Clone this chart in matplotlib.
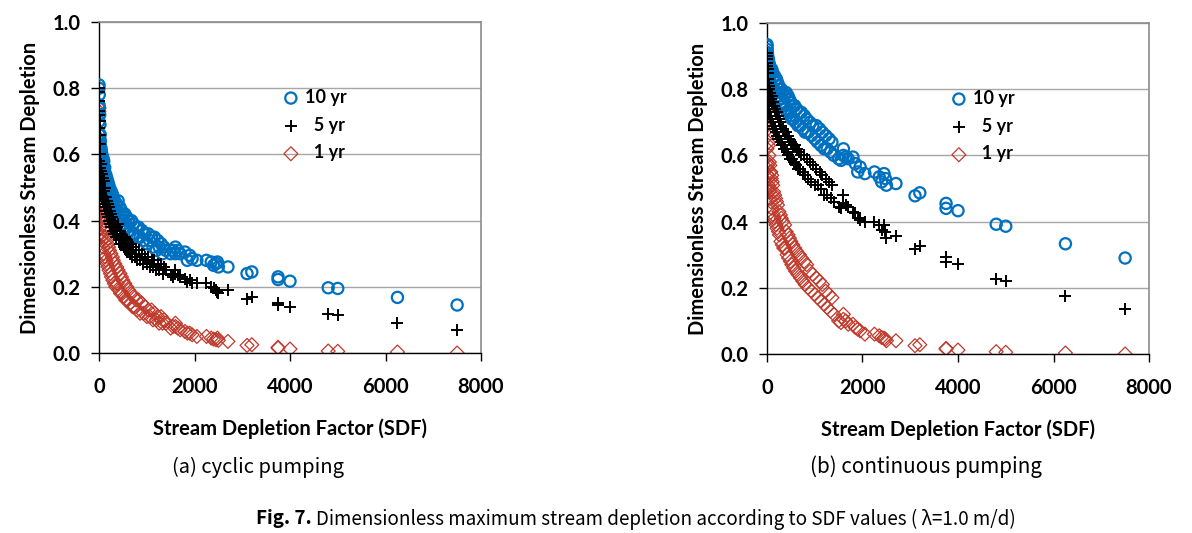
import matplotlib
matplotlib.use("Agg")
import matplotlib.pyplot as plt

# Shared SDF values (x)
sdf = [0, 0, 0, 0, 0, 0, 5, 5, 10, 10, 15, 15, 20, 20, 25, 30, 30, 40, 40, 50,
       50, 60, 60, 70, 80, 80, 90, 100, 100, 110, 120, 130, 140, 150, 160, 170, 180, 190, 200, 210,
       220, 240, 250, 260, 280, 290, 300, 320, 330, 350, 370, 380, 400, 420, 440, 450, 470, 490, 500, 520,
       540, 560, 580, 600, 620, 650, 680, 700, 720, 750, 780, 800, 830, 860, 900, 930, 960, 1000, 1030, 1060,
       1100, 1130, 1160, 1200, 1230, 1260, 1300, 1330, 1360, 1400,
       1500, 1550, 1600, 1600, 1650, 1700, 1800, 1850, 1900, 1950, 2050, 2250, 2350,
       2400, 2450, 2480, 2500, 2700, 3100, 3200, 3750, 3750, 4000, 4800, 5000, 6250, 7500]

# (a) cyclic pumping
cyc_10yr = [0.81, 0.80, 0.75, 0.70, 0.66, 0.62, 0.78, 0.64, 0.74, 0.61, 0.72, 0.63, 0.69, 0.60, 0.66, 0.64, 0.58, 0.62, 0.57, 0.61,
            0.56, 0.60, 0.55, 0.58, 0.59, 0.54, 0.56, 0.58, 0.52, 0.55, 0.56, 0.51, 0.54, 0.50, 0.53, 0.49, 0.52, 0.48, 0.51, 0.47,
            0.50, 0.46, 0.49, 0.45, 0.48, 0.44, 0.47, 0.43, 0.46, 0.42, 0.45, 0.43, 0.46, 0.41, 0.44, 0.40, 0.43, 0.40, 0.42, 0.39,
            0.42, 0.38, 0.41, 0.38, 0.40, 0.37, 0.40, 0.36, 0.39, 0.36, 0.38, 0.35, 0.38, 0.35, 0.37, 0.34, 0.36, 0.33, 0.36, 0.34,
            0.35, 0.32, 0.35, 0.31, 0.34, 0.32, 0.33, 0.30, 0.32, 0.31,
            0.30, 0.31, 0.32, 0.30, 0.31, 0.30, 0.305, 0.28, 0.295, 0.285, 0.28, 0.28, 0.275,
            0.265, 0.27, 0.275, 0.26, 0.26, 0.24, 0.245, 0.222, 0.23, 0.217, 0.197, 0.195, 0.168, 0.145]
cyc_5yr = [0.80, 0.79, 0.73, 0.68, 0.60, 0.55, 0.76, 0.58, 0.72, 0.54, 0.70, 0.56, 0.66, 0.52, 0.63, 0.60, 0.50, 0.57, 0.49, 0.55,
           0.48, 0.54, 0.47, 0.52, 0.53, 0.46, 0.50, 0.52, 0.45, 0.49, 0.50, 0.44, 0.47, 0.43, 0.46, 0.42, 0.45, 0.41, 0.44, 0.40,
           0.43, 0.39, 0.42, 0.38, 0.41, 0.37, 0.40, 0.36, 0.39, 0.35, 0.38, 0.36, 0.39, 0.34, 0.37, 0.33, 0.36, 0.33, 0.35, 0.32,
           0.35, 0.31, 0.34, 0.31, 0.33, 0.30, 0.33, 0.29, 0.32, 0.29, 0.31, 0.28, 0.31, 0.28, 0.30, 0.27, 0.29, 0.27, 0.29, 0.26,
           0.28, 0.26, 0.28, 0.25, 0.27, 0.25, 0.27, 0.24, 0.26, 0.25,
           0.235, 0.23, 0.25, 0.24, 0.235, 0.23, 0.225, 0.215, 0.22, 0.21, 0.21, 0.21, 0.20,
           0.195, 0.19, 0.185, 0.18, 0.19, 0.163, 0.168, 0.145, 0.152, 0.14, 0.118, 0.115, 0.092, 0.07]
cyc_1yr = [0.74, 0.73, 0.65, 0.58, 0.50, 0.45, 0.64, 0.42, 0.62, 0.48, 0.57, 0.40, 0.55, 0.44, 0.52, 0.50, 0.38, 0.47, 0.36, 0.45,
           0.35, 0.43, 0.34, 0.41, 0.42, 0.32, 0.39, 0.40, 0.30, 0.37, 0.38, 0.29, 0.35, 0.28, 0.34, 0.27, 0.33, 0.26, 0.32, 0.25,
           0.31, 0.24, 0.30, 0.23, 0.29, 0.22, 0.28, 0.21, 0.27, 0.20, 0.26, 0.21, 0.25, 0.19, 0.24, 0.18, 0.23, 0.18, 0.22, 0.17,
           0.21, 0.16, 0.20, 0.16, 0.19, 0.15, 0.18, 0.14, 0.17, 0.14, 0.16, 0.13, 0.16, 0.12, 0.15, 0.12, 0.14, 0.11, 0.13, 0.11,
           0.13, 0.10, 0.12, 0.10, 0.11, 0.09, 0.11, 0.09, 0.10, 0.09,
           0.075, 0.08, 0.09, 0.08, 0.075, 0.07, 0.065, 0.06, 0.06, 0.055, 0.05, 0.05, 0.045,
           0.042, 0.04, 0.045, 0.038, 0.035, 0.023, 0.025, 0.015, 0.017, 0.012, 0.006, 0.005, 0.003, 0.0]

# (b) continuous pumping
con_10yr = [0.935, 0.93, 0.91, 0.89, 0.87, 0.86, 0.92, 0.85, 0.91, 0.86, 0.90, 0.85, 0.89, 0.84, 0.88, 0.89, 0.84, 0.88, 0.83, 0.87,
            0.83, 0.87, 0.82, 0.86, 0.86, 0.81, 0.85, 0.86, 0.81, 0.85, 0.85, 0.80, 0.84, 0.80, 0.84, 0.79, 0.83, 0.79, 0.83, 0.78,
            0.82, 0.77, 0.81, 0.77, 0.80, 0.76, 0.80, 0.75, 0.79, 0.75, 0.78, 0.74, 0.79, 0.73, 0.78, 0.73, 0.77, 0.72, 0.76, 0.71,
            0.75, 0.71, 0.75, 0.70, 0.74, 0.69, 0.73, 0.69, 0.73, 0.68, 0.72, 0.67, 0.71, 0.67, 0.70, 0.66, 0.69, 0.65, 0.69, 0.64,
            0.68, 0.63, 0.67, 0.62, 0.66, 0.62, 0.65, 0.61, 0.64, 0.60,
            0.59, 0.585, 0.62, 0.60, 0.595, 0.59, 0.595, 0.575, 0.55, 0.565, 0.545, 0.55, 0.535,
            0.52, 0.545, 0.53, 0.51, 0.515, 0.478, 0.487, 0.44, 0.455, 0.433, 0.392, 0.386, 0.333, 0.29]
con_5yr = [0.91, 0.90, 0.88, 0.85, 0.80, 0.76, 0.89, 0.78, 0.87, 0.77, 0.86, 0.76, 0.85, 0.75, 0.83, 0.82, 0.74, 0.81, 0.74, 0.80,
           0.73, 0.79, 0.72, 0.78, 0.78, 0.71, 0.77, 0.78, 0.70, 0.76, 0.76, 0.69, 0.75, 0.68, 0.74, 0.68, 0.73, 0.67, 0.73, 0.66,
           0.72, 0.65, 0.71, 0.65, 0.70, 0.64, 0.69, 0.63, 0.68, 0.62, 0.67, 0.62, 0.67, 0.61, 0.66, 0.60, 0.65, 0.59, 0.64, 0.59,
           0.63, 0.58, 0.63, 0.57, 0.62, 0.56, 0.61, 0.56, 0.60, 0.55, 0.60, 0.54, 0.59, 0.53, 0.58, 0.52, 0.57, 0.51, 0.56, 0.51,
           0.55, 0.50, 0.54, 0.48, 0.53, 0.48, 0.52, 0.47, 0.51, 0.46,
           0.445, 0.44, 0.48, 0.455, 0.45, 0.445, 0.43, 0.425, 0.41, 0.405, 0.40, 0.40, 0.39,
           0.375, 0.39, 0.37, 0.35, 0.358, 0.318, 0.325, 0.278, 0.292, 0.272, 0.228, 0.222, 0.175, 0.135]
con_1yr = [0.81, 0.80, 0.74, 0.69, 0.62, 0.58, 0.74, 0.56, 0.70, 0.57, 0.68, 0.54, 0.66, 0.53, 0.64, 0.63, 0.51, 0.60, 0.50, 0.58,
           0.49, 0.57, 0.47, 0.55, 0.55, 0.46, 0.53, 0.54, 0.44, 0.52, 0.51, 0.42, 0.49, 0.41, 0.48, 0.40, 0.47, 0.39, 0.46, 0.38,
           0.45, 0.37, 0.43, 0.36, 0.42, 0.34, 0.41, 0.33, 0.40, 0.32, 0.39, 0.32, 0.37, 0.30, 0.36, 0.29, 0.35, 0.28, 0.34, 0.27,
           0.33, 0.26, 0.32, 0.25, 0.31, 0.24, 0.30, 0.23, 0.29, 0.22, 0.28, 0.21, 0.27, 0.20, 0.25, 0.19, 0.24, 0.18, 0.23, 0.17,
           0.22, 0.16, 0.21, 0.15, 0.19, 0.14, 0.18, 0.13, 0.17, 0.12,
           0.10, 0.095, 0.12, 0.105, 0.10, 0.09, 0.09, 0.08, 0.075, 0.07, 0.06, 0.06, 0.055,
           0.05, 0.048, 0.045, 0.04, 0.04, 0.025, 0.028, 0.015, 0.017, 0.012, 0.007, 0.005, 0.003, 0.0]

series_labels = ["10 yr", "  5 yr", "  1 yr"]
x_ticks = [0, 2000, 4000, 6000, 8000]
y_ticks = [0.0, 0.2, 0.4, 0.6, 0.8, 1.0]

BLUE = "#0070C0"
RED = "#C0392B"
BOLD = "Lato"
CAP = ["Noto Sans CJK KR", "DejaVu Sans"]

fig = plt.figure(figsize=(11.92, 5.33), dpi=100)
W, H = 1192, 533


def make_axes(left_px, top_px, bottom_px, right_px):
    return fig.add_axes([left_px / W, (H - bottom_px) / H,
                         (right_px - left_px) / W, (bottom_px - top_px) / H])


panels = [
    (make_axes(99, 22, 353, 481), cyc_10yr, cyc_5yr, cyc_1yr),
    (make_axes(767, 23, 354, 1149), con_10yr, con_5yr, con_1yr),
]

for ax, y10, y5, y1 in panels:
    ax.scatter(sdf, y10, s=65, facecolors="none", edgecolors=BLUE, linewidths=1.6,
               marker="o", label=series_labels[0], zorder=3)
    ax.scatter(sdf, y5, s=80, c="black", linewidths=1.4, marker="+",
               label=series_labels[1], zorder=4)
    ax.scatter(sdf, y1, s=50, facecolors="none", edgecolors=RED, linewidths=0.9,
               marker="D", label=series_labels[2], zorder=2)
    ax.set_xlim(0, 8000)
    ax.set_ylim(0, 1.0)
    ax.set_xticks(x_ticks)
    ax.set_yticks(y_ticks)
    ax.set_xticklabels([str(v) for v in x_ticks], fontfamily=BOLD, fontweight="bold", fontsize=14.5)
    ax.set_yticklabels([f"{v:.1f}" for v in y_ticks], fontfamily=BOLD, fontweight="bold", fontsize=14.5)
    ax.tick_params(axis="x", direction="out", length=6, width=1, pad=11, colors="black")
    ax.tick_params(axis="y", direction="out", length=6, width=1, pad=7, colors="black")
    ax.grid(axis="y", color="#a6a6a6", linewidth=1)
    ax.set_axisbelow(True)
    for side in ("top", "right"):
        ax.spines[side].set_color("#8c8c8c")
        ax.spines[side].set_linewidth(1.2)
    for side in ("left", "bottom"):
        ax.spines[side].set_color("black")
        ax.spines[side].set_linewidth(1)
    ax.set_xlabel("Stream Depletion Factor (SDF)", fontfamily=BOLD, fontweight="bold",
                  fontsize=14.5, labelpad=16)
    ax.set_ylabel("Dimensionless Stream Depletion", fontfamily=BOLD, fontweight="bold",
                  fontsize=14.5, labelpad=9)
    ax.legend(loc="upper left", bbox_to_anchor=(0.455, 0.82), frameon=False,
              prop={"family": BOLD, "weight": "bold", "size": 13},
              handletextpad=0.2, labelspacing=0.6, handlelength=1.2,
              borderaxespad=0, scatterpoints=1)

renderer = fig.canvas.get_renderer()


def fit_width(txt, target_px):
    for _ in range(4):
        w = txt.get_window_extent(renderer).width
        txt.set_fontsize(txt.get_fontsize() * target_px / w)


ta = fig.text(258 / W, 1 - 467 / H, "(a) cyclic pumping", ha="center", va="center",
              fontsize=14, family=CAP)
fit_width(ta, 172)
tb = fig.text(926 / W, 1 - 467 / H, "(b) continuous pumping", ha="center", va="center",
              fontsize=14, family=CAP)
fit_width(tb, 232)

# Caption: bold "Fig. 7." followed by regular text, same size, fitted to the reference span
cap_left, cap_right = 256, 1016
cap_y = 1 - 519 / H
fig_lbl = fig.text(cap_left / W, cap_y, "Fig. 7.", ha="left", va="center",
                   fontsize=14, fontweight="bold", family=CAP)
rest = fig.text(0, cap_y,
                "Dimensionless maximum stream depletion according to SDF values ( \u03bb=1.0 m/d)",
                ha="left", va="center", fontsize=14, family=CAP)
size = 14.0
for _ in range(5):
    fig_lbl.set_fontsize(size)
    rest.set_fontsize(size)
    fw = fig_lbl.get_window_extent(renderer).width
    gap = size * 0.3
    rest.set_x((cap_left + fw + gap) / W)
    total = fw + gap + rest.get_window_extent(renderer).width
    size *= (cap_right - cap_left) / total

fig.savefig("out.png", dpi=100)
